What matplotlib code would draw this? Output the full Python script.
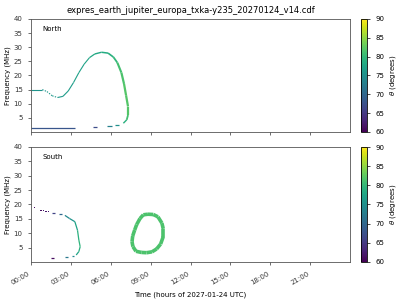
import matplotlib
matplotlib.use("Agg")
import matplotlib.pyplot as plt
import numpy as np
from matplotlib.collections import LineCollection
from matplotlib.colors import Normalize
from matplotlib.cm import ScalarMappable
from matplotlib.ticker import FuncFormatter

title = "expres_earth_jupiter_europa_txka-y235_20270124_v14.cdf"

# north hemisphere pieces: time (h), frequency (MHz), theta (deg)
north_flat_t = [0.0, 0.85]
north_flat_f = [15.0, 15.0]
north_flat_th = [75.5, 75.5]

north_dip_t = [0.85, 1.2, 1.6, 2.0]
north_dip_f = [15.0, 14.3, 12.8, 12.2]
north_dip_th = [75.5, 76, 76, 76]

north_arc_t = [2.0, 2.4, 2.8, 3.2, 3.6, 4.0, 4.4, 4.8, 5.3, 5.8, 6.2, 6.5, 6.8, 7.0, 7.15, 7.3, 7.3, 7.2, 6.95]
north_arc_f = [12.2, 12.6, 14.5, 17.5, 21.0, 24.0, 26.3, 27.6, 28.2, 27.9, 26.5, 24.5, 21.0, 17.0, 13.0, 9.0, 6.0, 4.3, 3.1]
north_arc_th = [76, 76.5, 76.5, 77, 77, 77.5, 78, 78, 78.5, 79, 80, 81, 81.5, 82, 82, 82, 81, 79, 77]
north_arc_w = [0.8, 0.8, 0.8, 0.8, 0.8, 0.8, 0.9, 1.0, 1.1, 1.2, 1.3, 1.5, 1.6, 1.6, 1.6, 1.6, 1.3, 1.0, 0.9]

north_low = [  # (t0, t1, f, theta)
    (0.0, 3.3, 1.3, 68),
    (4.65, 4.95, 1.75, 67),
    (5.7, 6.1, 2.1, 73),
    (6.35, 6.6, 2.45, 75),
]

# south hemisphere
south_dots_t = [0.23, 0.75, 0.93, 1.13, 1.3]
south_dots_f = [19.0, 17.9, 17.8, 17.6, 17.5]
south_dots_th = [61, 61, 62, 62, 62]

south_dash = [  # (t0, t1, f, theta)
    (1.55, 1.8, 17.0, 66),
    (2.1, 2.3, 16.6, 70),
    (3.05, 3.2, 2.1, 74),
    (2.55, 2.8, 1.6, 72),
    (1.5, 1.7, 1.3, 61),
]

south_arc_t = [2.55, 2.9, 3.3, 3.5, 3.6, 3.7, 3.6, 3.4]
south_arc_f = [16.2, 15.1, 14.0, 11.0, 7.6, 5.3, 3.6, 2.4]
south_arc_th = [74, 75.5, 77.5, 79, 79.5, 79, 77.5, 75]

loop_t = [7.67, 7.9, 8.3, 8.7, 9.1, 9.45, 9.75, 9.95, 9.95, 9.85, 9.55, 9.2, 8.8, 8.45, 8.2, 7.95, 7.8, 7.65, 7.6, 7.67]
loop_f = [5.3, 3.7, 3.3, 3.2, 3.5, 4.5, 6.2, 8.8, 11.5, 13.5, 15.7, 16.5, 16.6, 16.4, 15.1, 13.0, 11.1, 9.0, 7.0, 5.3]
loop_th = [81.5] * 20

cmap = plt.get_cmap("viridis")
norm = Normalize(60, 90)
fs = 5


def curve(ax, t, f, th, lw, ls="-"):
    pts = np.column_stack([t, f]).reshape(-1, 1, 2)
    segs = np.concatenate([pts[:-1], pts[1:]], axis=1)
    th = np.asarray(th, dtype=float)
    lw = np.broadcast_to(np.asarray(lw, dtype=float), th.shape)
    lc = LineCollection(segs, colors=cmap(norm(th[:-1])), linewidths=lw[:-1],
                        linestyles=ls, capstyle="butt")
    ax.add_collection(lc)


def dashes(ax, items, lw):
    for t0, t1, f, th in items:
        ax.plot([t0, t1], [f, f], color=cmap(norm(th)), lw=lw, solid_capstyle="butt")


fig = plt.figure(figsize=(4, 3), dpi=100)
ax1 = fig.add_axes([0.0775, 0.56, 0.7975, 0.377])
ax2 = fig.add_axes([0.0775, 0.127, 0.7975, 0.383])
cax1 = fig.add_axes([0.9025, 0.56, 0.016, 0.377])
cax2 = fig.add_axes([0.9025, 0.127, 0.016, 0.383])

curve(ax1, north_flat_t, north_flat_f, north_flat_th, 0.8)
curve(ax1, north_dip_t, north_dip_f, north_dip_th, 0.8, ls=(0, (1.2, 1.2)))
curve(ax1, north_arc_t, north_arc_f, north_arc_th, north_arc_w)
dashes(ax1, north_low, 0.9)

ax2.scatter(south_dots_t, south_dots_f, c=south_dots_th, cmap=cmap, norm=norm, s=0.6, marker="s", linewidths=0)
dashes(ax2, south_dash, 0.9)
curve(ax2, south_arc_t, south_arc_f, south_arc_th, 0.9)
curve(ax2, loop_t, loop_f, loop_th, 2.6)

for ax, name in [(ax1, "North"), (ax2, "South")]:
    ax.set_xlim(0, 24)
    ax.set_ylim(0, 40)
    ax.set_yticks([5, 10, 15, 20, 25, 30, 35, 40])
    ax.set_xticks(range(0, 24, 3))
    ax.tick_params(labelsize=fs, length=2.5, width=0.5, colors="#333333")
    for s in ax.spines.values():
        s.set_linewidth(0.6)
        s.set_color("#555555")
    ax.set_ylabel("Frequency (MHz)", fontsize=fs, labelpad=2)
    ax.text(0.037, 0.91, name, transform=ax.transAxes, fontsize=fs, va="center")

ax1.tick_params(labelbottom=False)
ax2.xaxis.set_major_formatter(FuncFormatter(lambda v, p: "%02d:00" % int(v)))
for lab in ax2.get_xticklabels():
    lab.set_rotation(30)
    lab.set_ha("right")
ax2.set_xlabel("Time (hours of 2027-01-24 UTC)", fontsize=fs)
ax1.set_title(title, fontsize=6, pad=4)

for cax in (cax1, cax2):
    cb = fig.colorbar(ScalarMappable(norm=norm, cmap=cmap), cax=cax)
    cb.set_ticks([60, 65, 70, 75, 80, 85, 90])
    cb.ax.tick_params(labelsize=fs, length=2.5, width=0.5)
    cb.outline.set_linewidth(0.6)
    cb.set_label(r"$\theta$ (degrees)", fontsize=fs, labelpad=2)

fig.savefig("out.png", dpi=100)
